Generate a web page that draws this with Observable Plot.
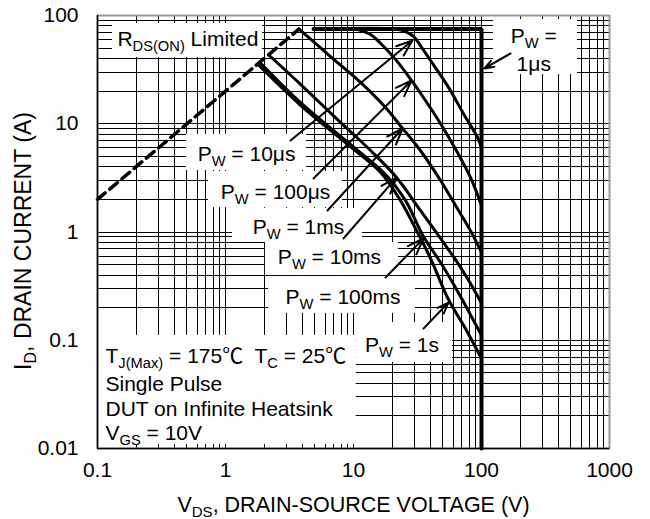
<!DOCTYPE html>
<html><head><meta charset="utf-8">
<script src="https://cdn.jsdelivr.net/npm/d3@7"></script>
<script src="https://cdn.jsdelivr.net/npm/@observablehq/plot@0.6"></script>
<style>body{margin:0;background:#fff;} #chart svg{display:block}</style>
</head><body><div id="chart"></div>
<script>
// ---- axis ticks ----
const xTicks = [0.1, 1, 10, 100, 1000];
const xTickLabels = ["0.1", "1", "10", "100", "1000"];
const yTicks = [0.01, 0.1, 1, 10, 100];
const yTickLabels = ["0.01", "0.1", "1", "10", "100"];
const xTitle = "V_{DS}, DRAIN-SOURCE VOLTAGE (V)";
const yTitle = "I_{D}, DRAIN CURRENT (A)";

// ---- series (V in volts, I in amps) ----
const rdsV = [0.1, 3.75];
const rdsI = [2, 75];
const pw1usV = [4.87, 100, 100];
const pw1usI = [75, 75, 0.01];
const pw10usV = [4.87, 21.3, 25.5, 29.4, 33.3, 40, 54.2, 72.3, 93.1, 100];
const pw10usI = [75, 75, 71.1, 64, 52.8, 38.4, 22.5, 12.4, 7.46, 6.04];
const pw100usV = [4.87, 8.5, 10.7, 13.6, 16.3, 21.3, 28.4, 36.5, 47.9, 64.9, 82, 100];
const pw100usI = [75, 75, 74.3, 66.7, 55.1, 39.3, 25.1, 16.4, 10.0, 5.42, 3.19, 1.76];
const pw1msV = [3.75, 6.61, 11.35, 17.8, 24.2, 33.3, 47.9, 62.7, 82, 100];
const pw1msI = [75, 41.8, 24.1, 14.1, 9.04, 5.66, 2.99, 1.76, 1.03, 0.647];
const pw10msV = [2.17, 3.86, 7.91, 13.6, 21.7, 33.3, 47.9, 64.9, 82, 100];
const pw10msI = [43.4, 23.1, 10.3, 5.66, 3.19, 1.58, 0.871, 0.522, 0.334, 0.219];
const pw100msV = [1.85, 3.86, 10.0, 17.8, 25.5, 35.2, 47.9, 68.5, 100];
const pw100msI = [37.0, 15.7, 6.1, 3.4, 1.95, 0.909, 0.522, 0.254, 0.111];
const pw1sV = [1.78, 3.86, 8.98, 16.3, 23.3, 30.5, 40, 55.2, 75, 100];
const pw1sI = [35.6, 14.8, 6.45, 3.55, 1.95, 1.077, 0.569, 0.238, 0.128, 0.0678];

// ---- annotations ----
const rdsLabel = "R_{DS(ON)} Limited";
const rdsLabelV = 0.143;
const rdsLabelI = 60;
const labelText = ["P_{W} = 10μs", "P_{W} = 100μs", "P_{W} = 1ms", "P_{W} = 10ms", "P_{W} = 100ms", "P_{W} = 1s", "P_{W} =\n1μs"];
const labelV = [1.46, 2.46, 3.72, 6.49, 8.28, 23.9, 256];
const labelI = [5.42, 2.44, 1.16, 0.613, 0.262, 0.0933, 49.8];
const boxV1 = [0.131, 0.495, 0.736, 1.135, 2.05, 2.17, 10.5, 124, 0.1];
const boxV2 = [1.95, 4.3, 8.2, 11.75, 22.5, 30.5, 59.3, 562, 10.5];
const boxI1 = [84.3, 7.96, 3.62, 1.65, 0.80, 0.388, 0.146, 92, 0.111];
const boxI2 = [40.9, 3.70, 1.68, 0.80, 0.396, 0.177, 0.0623, 28.5, 0.01];
const arrowV1 = [3.22, 4.87, 6.26, 8.35, 17.8, 35.2, 168.6];
const arrowI1 = [7.0, 3.12, 1.58, 0.871, 0.380, 0.128, 44.6];
const arrowV2 = [28.9, 28.4, 24.2, 21.7, 35.2, 55.2, 105.5];
const arrowI2 = [58.8, 25.1, 9.04, 3.19, 0.871, 0.223, 32.4];
const condLines = ["T_{J(Max)} = 175℃  T_{C} = 25℃", "Single Pulse", "DUT on Infinite Heatsink", "V_{GS} = 10V"];
const condV = 0.1155;
const condI = [0.0714, 0.039, 0.0232, 0.01377];

// ---- build tables ----
const mult = [1, 2, 3, 4, 5, 6, 7, 8, 9];
const xGrid = [0.1, 1, 10, 100].flatMap(d => mult.map(m => m * d)).concat([1000]);
const yGrid = [0.01, 0.1, 1, 10].flatMap(d => mult.map(m => m * d)).concat([100]);
const toRows = (name, V, I) => V.map((v, k) => ({pw: name, v, i: I[k]}));
const curves = [
  ...toRows("10us", pw10usV, pw10usI),
  ...toRows("100us", pw100usV, pw100usI),
  ...toRows("1ms", pw1msV, pw1msI),
  ...toRows("10ms", pw10msV, pw10msI),
  ...toRows("100ms", pw100msV, pw100msI),
  ...toRows("1s", pw1sV, pw1sI)
];
const rds = toRows("rds", rdsV, rdsI);
const pw1us = toRows("1us", pw1usV, pw1usI);
const labels = labelText.map((t, k) => ({t, v: labelV[k], i: labelI[k]}));
const boxes = boxV1.map((v, k) => ({v1: v, v2: boxV2[k], i1: boxI1[k], i2: boxI2[k]}));
const arrows = arrowV1.map((v, k) => ({v1: v, i1: arrowI1[k], v2: arrowV2[k], i2: arrowI2[k]}));
const conds = condLines.map((t, k) => ({t, v: condV, i: condI[k]}));
const xFmt = new Map(xTicks.map((d, k) => [d, xTickLabels[k]]));
const yFmt = new Map(yTicks.map((d, k) => [d, yTickLabels[k]]));

const chart = Plot.plot({
  width: 650, height: 519,
  marginLeft: 97, marginRight: 41, marginTop: 15, marginBottom: 71,
  style: {fontFamily: "'Liberation Sans', Arial, 'Noto Sans CJK SC', sans-serif", fontSize: "21px", background: "white", color: "black", overflow: "visible"},
  x: {type: "log", domain: [0.1, 1000], ticks: xTicks, tickFormat: d => xFmt.get(d), tickSize: 0, tickPadding: 14, label: null},
  y: {type: "log", domain: [0.01, 100], ticks: yTicks, tickFormat: d => yFmt.get(d), tickSize: 0, tickPadding: 19, label: null},
  marks: [
    Plot.ruleX(xGrid, {stroke: "black", strokeWidth: 1, shapeRendering: "crispEdges"}),
    Plot.ruleY(yGrid, {stroke: "black", strokeWidth: 1, shapeRendering: "crispEdges"}),
    Plot.rect(boxes, {x1: "v1", x2: "v2", y1: "i1", y2: "i2", fill: "white"}),
    Plot.ruleX(xGrid, {y1: 0.01, y2: 0.0109, stroke: "black", strokeWidth: 1, shapeRendering: "crispEdges"}),
    Plot.frame({stroke: "#9a9a9a", strokeWidth: 2}),
    Plot.ruleX([0.1], {stroke: "black", strokeWidth: 1.5}),
    Plot.ruleY([0.01], {stroke: "black", strokeWidth: 1.5}),
    Plot.line(rds, {x: "v", y: "i", stroke: "black", strokeWidth: 3.5, strokeDasharray: "10,6"}),
    Plot.line(curves, {x: "v", y: "i", z: "pw", stroke: "black", strokeWidth: 3, curve: "catmull-rom", strokeLinejoin: "round"}),
    Plot.line(pw1us, {x: "v", y: "i", stroke: "black", strokeWidth: 4, strokeLinejoin: "miter"}),
    Plot.arrow(arrows, {x1: "v1", y1: "i1", x2: "v2", y2: "i2", stroke: "black", strokeWidth: 2, headLength: 13, headAngle: 40}),
    Plot.text([rdsLabel], {x: () => rdsLabelV, y: () => rdsLabelI, textAnchor: "start", fontSize: 21, fill: "black"}),
    Plot.text(labels, {x: "v", y: "i", text: "t", textAnchor: "middle", lineHeight: 1.32, fontSize: 21, fill: "black"}),
    Plot.text(conds, {x: "v", y: "i", text: "t", textAnchor: "start", fontSize: 21, fill: "black"}),
    Plot.text([xTitle], {frameAnchor: "bottom", textAnchor: "middle", lineAnchor: "middle", dy: 57, fontSize: 21.5, fill: "black"}),
    Plot.text([yTitle], {frameAnchor: "left", textAnchor: "middle", lineAnchor: "middle", rotate: -90, dx: -74, dy: 9, fontSize: 23, fill: "black"})
  ]
});

// subscripts: "_{...}" (handles single-line texts and per-line tspans)
function subscriptify(node) {
  const s = node.textContent;
  if (!s.includes("_{")) return;
  const parts = s.split(/(_\{[^}]*\})/).filter(p => p);
  node.textContent = "";
  let down = false;
  for (const p of parts) {
    const ts = d3.select(node).append("tspan");
    if (p.startsWith("_{")) {
      ts.text(p.slice(2, -1)).attr("font-size", "70%").attr("dy", down ? 0 : 5);
      down = true;
    } else {
      ts.text(p).attr("dy", down ? -5 : 0);
      down = false;
    }
  }
}
d3.select(chart).selectAll("text").each(function () {
  const lines = Array.from(this.children).filter(c => c.tagName === "tspan");
  if (lines.length) lines.forEach(subscriptify);
  else subscriptify(this);
});
document.getElementById("chart").appendChild(chart);
</script>
</body></html>
